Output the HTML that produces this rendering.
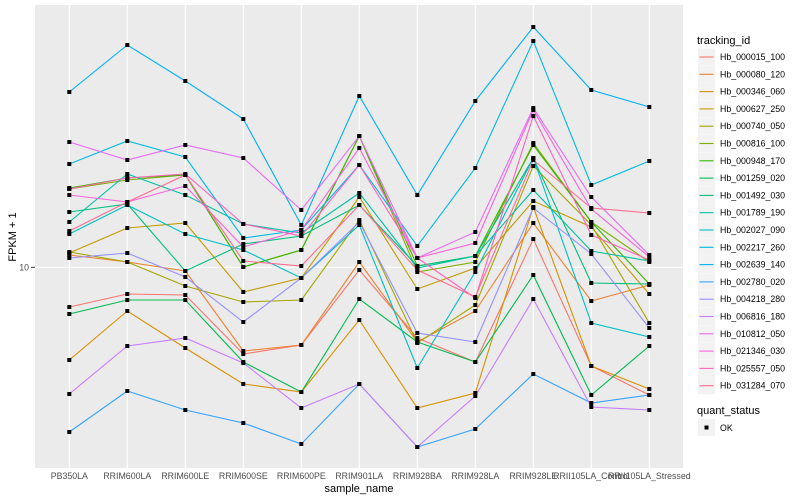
<!DOCTYPE html>
<html><head><meta charset="utf-8"><style>
body{margin:0;background:#fff;}
svg{display:block;font-family:"Liberation Sans",sans-serif;}
</style></head><body>
<svg width="800" height="500" xmlns="http://www.w3.org/2000/svg">
<rect x="35" y="5" width="648" height="463" fill="#EBEBEB"/>
<g stroke="#fff" stroke-width="1.1">
<line x1="35" x2="683" y1="267.3" y2="267.3"/>
<line x1="69.3" x2="69.3" y1="5" y2="468"/><line x1="127.3" x2="127.3" y1="5" y2="468"/><line x1="185.3" x2="185.3" y1="5" y2="468"/><line x1="243.3" x2="243.3" y1="5" y2="468"/><line x1="301.3" x2="301.3" y1="5" y2="468"/><line x1="359.3" x2="359.3" y1="5" y2="468"/><line x1="417.3" x2="417.3" y1="5" y2="468"/><line x1="475.3" x2="475.3" y1="5" y2="468"/><line x1="533.3" x2="533.3" y1="5" y2="468"/><line x1="591.3" x2="591.3" y1="5" y2="468"/><line x1="649.3" x2="649.3" y1="5" y2="468"/>
</g>
<g id="series" fill="none" stroke-width="1.1"></g>
<g id="pts" fill="#000"></g>
<line x1="31" x2="35" y1="267.3" y2="267.3" stroke="#333"/>
<text x="29" y="270.5" font-size="8.8" fill="#4D4D4D" text-anchor="end">10</text>
<g font-size="8.8" fill="#4D4D4D" text-anchor="middle">
<text x="69.3" y="479">PB350LA</text><text x="127.3" y="479">RRIM600LA</text><text x="185.3" y="479">RRIM600LE</text><text x="243.3" y="479">RRIM600SE</text><text x="301.3" y="479">RRIM600PE</text><text x="359.3" y="479">RRIM901LA</text><text x="417.3" y="479">RRIM928BA</text><text x="475.3" y="479">RRIM928LA</text><text x="533.3" y="479">RRIM928LE</text><text x="591.3" y="479">RRII105LA_Control</text><text x="649.3" y="479">RRII105LA_Stressed</text>
</g>
<text x="359" y="492" font-size="11" text-anchor="middle" fill="#000">sample_name</text>
<text transform="translate(16,237) rotate(-90)" font-size="11" text-anchor="middle" fill="#000">FPKM + 1</text>
<text x="697" y="44" font-size="11" fill="#000">tracking_id</text>
<g id="leg" font-size="8.8" fill="#000"></g>
<text x="697" y="414" font-size="11" fill="#000">quant_status</text>
<rect x="698" y="419" width="17" height="17" fill="#F2F2F2"/>
<rect x="704.5" y="425.5" width="4" height="4" fill="#000"/>
<text x="720" y="431" font-size="8.8" fill="#000">OK</text>
<script>
var X=[69.3,127.3,185.3,243.3,301.3,359.3,417.3,475.3,533.3,591.3,649.3];
var S=[
["Hb_000015_100","#F8766D",[307,294,295,354,345,270,338,362,239,366,395]],
["Hb_000080_120","#EA8331",[255,262,271,351,345,262,342,311,223,301,285]],
["Hb_000346_060","#D89000",[360,311,348,384,392,320,408,393,207,366,389]],
["Hb_000627_250","#C09B00",[253,228,223,292,278,197,289,268,201,227,294]],
["Hb_000740_050","#A3A500",[252,262,286,302,300,220,343,305,166,225,323]],
["Hb_000816_100","#7CAE00",[189,180,175,267,250,136,272,262,143,222,262]],
["Hb_000948_170","#39B600",[188,178,175,267,250,136,266,256,145,222,284]],
["Hb_001259_020","#00BB4E",[314,300,300,362,392,299,342,362,275,395,346]],
["Hb_001492_030","#00BF7D",[212,204,271,244,236,205,266,256,158,283,284]],
["Hb_001789_190","#00C1A3",[222,174,195,224,233,193,268,256,190,251,261]],
["Hb_002027_090","#00BFC4",[234,205,234,250,278,225,368,272,158,323,337]],
["Hb_002217_260","#00BAE0",[164,141,157,238,230,165,246,168,41,185,161]],
["Hb_002639_140","#00B0F6",[92,45,81,119,225,96,195,101,27,90,107]],
["Hb_002780_020","#35A2FF",[432,391,410,423,444,384,447,429,374,403,395]],
["Hb_004218_280","#9590FF",[258,253,277,322,278,222,333,342,208,254,328]],
["Hb_006816_180","#C77CFF",[394,346,338,363,408,384,447,396,299,407,410]],
["Hb_010812_050","#E76BF3",[142,160,145,158,210,136,258,232,108,197,255]],
["Hb_021346_030","#FA62DB",[195,202,186,247,230,148,258,243,110,209,257]],
["Hb_025557_050","#FF62BC",[189,178,174,224,236,165,258,298,116,235,260]],
["Hb_031284_070","#FF6C91",[231,202,175,261,266,205,270,297,160,208,213]]];
var ns="http://www.w3.org/2000/svg",g=document.getElementById("series"),p=document.getElementById("pts"),L=document.getElementById("leg");
S.forEach(function(s,i){
 var pl=document.createElementNS(ns,"polyline");
 pl.setAttribute("points",s[2].map(function(y,j){return X[j]+","+y}).join(" "));
 pl.setAttribute("stroke",s[1]);g.appendChild(pl);
 s[2].forEach(function(y,j){var r=document.createElementNS(ns,"rect");r.setAttribute("x",X[j]-2);r.setAttribute("y",y-2);r.setAttribute("width",4);r.setAttribute("height",4);p.appendChild(r);});
 var yy=48.5+i*17.3;
 var bg=document.createElementNS(ns,"rect");bg.setAttribute("x",698);bg.setAttribute("y",yy);bg.setAttribute("width",17);bg.setAttribute("height",17);bg.setAttribute("fill","#F2F2F2");L.appendChild(bg);
 var ln=document.createElementNS(ns,"line");ln.setAttribute("x1",699.5);ln.setAttribute("x2",713.5);ln.setAttribute("y1",yy+8.5);ln.setAttribute("y2",yy+8.5);ln.setAttribute("stroke",s[1]);ln.setAttribute("stroke-width",1.1);L.appendChild(ln);
 var t=document.createElementNS(ns,"text");t.setAttribute("x",720);t.setAttribute("y",yy+11.5);t.textContent=s[0];L.appendChild(t);
});
</script>
</svg>
</body></html>
